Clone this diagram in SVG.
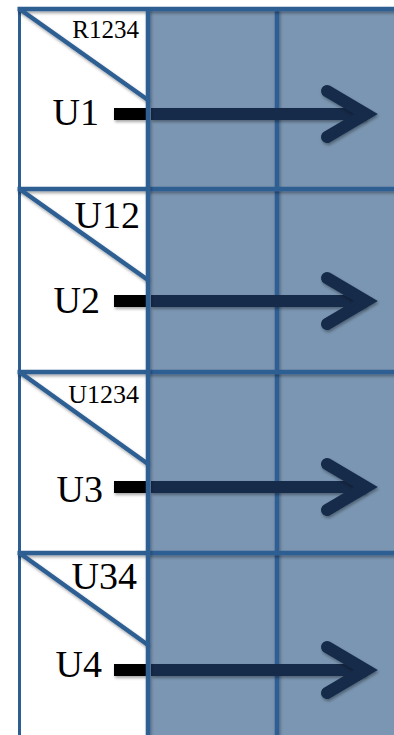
<svg xmlns="http://www.w3.org/2000/svg" width="394" height="735" viewBox="0 0 394 735">
<defs>
<filter id="sh" filterUnits="userSpaceOnUse" x="-10" y="-10" width="414" height="755">
<feDropShadow dx="1" dy="2" stdDeviation="1.5" flood-color="#000" flood-opacity="0.35"/>
</filter>
</defs>
<style>
.grid{stroke:#2D5E93;stroke-width:4.5;fill:none;filter:url(#sh)}
.edge{stroke:#2D5E93;stroke-width:3;fill:none}
.lbl{font-family:"Liberation Serif","Times New Roman",serif;fill:#000;text-anchor:end}
.big{font-size:38px}
.small{font-size:25px}
.stub{fill:#000;filter:url(#sh)}
.arrow{stroke:#142C48;stroke-width:12;fill:none;filter:url(#sh)}
.head{stroke-linecap:round;stroke-linejoin:miter;stroke-miterlimit:10}
</style>
<rect x="0" y="0" width="394" height="735" fill="#fff"/>
<rect x="148" y="9" width="250" height="730" fill="#7B96B2"/>
<g id="grid">
<line class="edge" x1="19.5" y1="8" x2="19.5" y2="735"/>
<line class="grid" x1="277" y1="9" x2="277" y2="735"/>
<line class="grid" x1="17.5" y1="9" x2="396" y2="9"/>
<line class="grid" x1="17.5" y1="189" x2="396" y2="189"/>
<line class="grid" x1="17.5" y1="372" x2="396" y2="372"/>
<line class="grid" x1="17.5" y1="553" x2="396" y2="553"/>
</g>
<g id="row1">
<line class="grid" x1="19.5" y1="9" x2="148" y2="100"/>
<text class="lbl small" x="139" y="38">R1234</text>
<text class="lbl big" x="99" y="125">U1</text>
</g>
<g id="row2">
<line class="grid" x1="19.5" y1="189" x2="148" y2="280"/>
<text class="lbl big" x="140" y="228">U12</text>
<text class="lbl big" x="100" y="313">U2</text>
</g>
<g id="row3">
<line class="grid" x1="19.5" y1="372" x2="148" y2="464"/>
<text class="lbl small" x="139" y="403" style="font-size:26px">U1234</text>
<text class="lbl big" x="103" y="502">U3</text>
</g>
<g id="row4">
<line class="grid" x1="19.5" y1="553" x2="148" y2="645"/>
<text class="lbl big" x="137" y="589">U34</text>
<text class="lbl big" x="102" y="677">U4</text>
</g>
<g id="connectors">
<rect class="stub" x="114" y="108" width="32" height="12"/>
<line class="arrow" x1="151" y1="114" x2="366" y2="114"/>
<polyline class="arrow head" points="327,91 366,114 327,137"/>
<rect class="stub" x="114" y="295" width="32" height="12"/>
<line class="arrow" x1="151" y1="301" x2="366" y2="301"/>
<polyline class="arrow head" points="327,278 366,301 327,324"/>
<rect class="stub" x="114" y="481" width="32" height="12"/>
<line class="arrow" x1="151" y1="487" x2="366" y2="487"/>
<polyline class="arrow head" points="327,464 366,487 327,510"/>
<rect class="stub" x="114" y="664" width="32" height="12"/>
<line class="arrow" x1="151" y1="670" x2="366" y2="670"/>
<polyline class="arrow head" points="327,647 366,670 327,693"/>
</g>
<line class="grid" x1="148" y1="9" x2="148" y2="735"/>
</svg>
